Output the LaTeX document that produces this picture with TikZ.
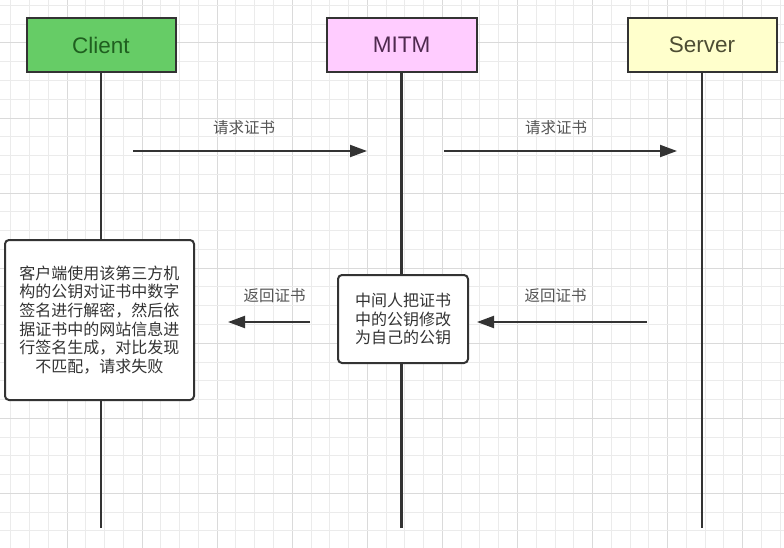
\documentclass[tikz,border=0pt]{standalone}
\usepackage{fontspec}
\setmainfont{Liberation Sans}
\newfontfamily\cjk{Noto Sans CJK SC}
\usetikzlibrary{arrows.meta}
\definecolor{clientfill}{HTML}{66CC66}
\definecolor{clienttext}{HTML}{1F5F1F}
\definecolor{mitmfill}{HTML}{FFCCFF}
\definecolor{mitmtext}{HTML}{4F2A4F}
\definecolor{serverfill}{HTML}{FFFFCC}
\definecolor{servertext}{HTML}{4D4D33}
\definecolor{linedark}{HTML}{333333}
\definecolor{labelgray}{HTML}{555555}
\definecolor{gridminor}{HTML}{EBEBEB}
\definecolor{gridmajor}{HTML}{DADADA}
\tikzset{
  actor/.style={draw=linedark, line width=2pt, minimum width=149pt, minimum height=54pt,
    inner sep=0pt, font=\fontsize{22.5}{26}\selectfont},
  lifeline/.style={draw=linedark, line width=2.5pt},
  notebox/.style={draw=linedark, line width=2pt, fill=white, rounded corners=4pt,
    inner sep=0pt, align=center, text=linedark, font=\cjk\fontsize{16}{18.7}\selectfont},
  msg/.style={draw=linedark, line width=2pt, -{Triangle[length=17pt,width=12pt]}},
  msglabel/.style={text=labelgray, inner sep=0pt, font=\cjk\fontsize{15.5}{18}\selectfont}
}
\begin{document}
\begin{tikzpicture}[x=1pt,y=-1pt]
\useasboundingbox (0,0) rectangle (784,548);
\fill[white] (0,0) rectangle (784,548);
% grid
\foreach \i in {0,...,41}{
  \pgfmathsetmacro\xx{10.6+\i*18.77}
  \pgfmathtruncatemacro\m{mod(\i+1,4)}
  \ifnum\m=0 \draw[gridmajor, line width=0.8pt] (\xx,0) -- (\xx,548);
  \else \draw[gridminor, line width=0.8pt] (\xx,0) -- (\xx,548); \fi
}
\foreach \j in {0,...,29}{
  \pgfmathsetmacro\yy{5.3+\j*18.77}
  \pgfmathtruncatemacro\m{mod(\j+2,4)}
  \ifnum\m=0 \draw[gridmajor, line width=0.8pt] (0,\yy) -- (784,\yy);
  \else \draw[gridminor, line width=0.8pt] (0,\yy) -- (784,\yy); \fi
}
% actors
\node[actor, fill=clientfill, text=clienttext] (client) at (101,45) {Client};
\node[actor, fill=mitmfill, text=mitmtext, minimum width=150pt] (mitm) at (401.5,45) {MITM};
\node[actor, fill=serverfill, text=servertext] (server) at (702,45) {Server};
% lifeline ends
\coordinate (clientend) at (101,528);
\coordinate (mitmend) at (401.5,528);
\coordinate (serverend) at (702,528);
\draw[lifeline] (client.south) -- (clientend);
\draw[lifeline] (mitm.south) -- (mitmend);
\draw[lifeline] (server.south) -- (serverend);
% notes
\node[notebox, minimum width=189pt, minimum height=160pt] (clientnote) at (99.5,320)
  {客户端使用该第三方机\\构的公钥对证书中数字\\签名进行解密，然后依\\据证书中的网站信息进\\行签名生成，对比发现\\不匹配，请求失败};
\node[notebox, minimum width=130pt, minimum height=88pt] (mitmnote) at (403,319)
  {中间人把证书\\中的公钥修改\\为自己的公钥};
% message coordinates
\coordinate (m1s) at (133,151);
\coordinate (m1e) at (367,151);
\coordinate (m2s) at (444,151);
\coordinate (m2e) at (677,151);
\coordinate (m3s) at (647,322);
\coordinate (m3e) at (477,322);
\coordinate (m4s) at (310,322);
\coordinate (m4e) at (228,322);
\draw[msg] (m1s) -- (m1e);
\draw[msg] (m2s) -- (m2e);
\draw[msg] (m3s) -- (m3e);
\draw[msg] (m4s) -- (m4e);
\node[msglabel] (l1) at (244,128) {请求证书};
\node[msglabel] (l2) at (556,128) {请求证书};
\node[msglabel] (l3) at (555.5,296) {返回证书};
\node[msglabel] (l4) at (274.5,296) {返回证书};
\end{tikzpicture}
\end{document}
